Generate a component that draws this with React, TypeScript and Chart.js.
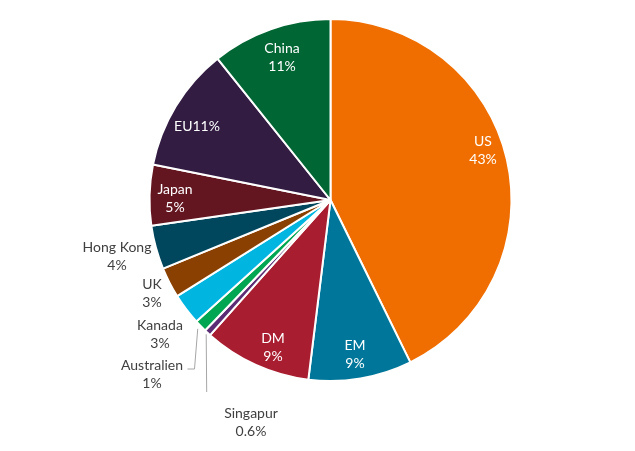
import React, { useEffect, useRef } from "react";
import { Chart, registerables } from "chart.js";

Chart.register(...registerables);

const categories = ["US", "EM", "DM", "Singapur", "Australien", "Kanada", "UK", "Hong Kong", "Japan", "EU", "China"];
const shares = [42.6, 9.2, 9.6, 0.6, 1.1, 2.8, 2.7, 3.9, 5.4, 11.1, 10.7];
const pctLabels = ["43%", "9%", "9%", "0.6%", "1%", "3%", "3%", "4%", "5%", "11%", "11%"];
const colors = ["#F06E00", "#00779A", "#A91D30", "#5C2D74", "#00A651", "#00B6E0", "#8A4000", "#00465C", "#631520", "#321C42", "#006633"];

// label placement (relative to pie centre), inside = white text
const labelOffsets: [number, number][] = [
  [152.5, -49.5], [24.5, 154.5], [-57.5, 147], [-79.5, 222.5], [-178.5, 174.5],
  [-170.5, 134.5], [-178.5, 93], [-213.5, 56.5], [-155.5, -2], [-133.5, -74], [-48.5, -142.5],
];
const insideLabel = [true, true, true, false, false, false, false, false, true, true, true];
const singleLine = [false, false, false, false, false, false, false, false, false, true, false];
// leader lines: index -> list of points relative to centre after the arc start
const leaders: Record<number, { r: number; pts: [number, number][] }> = {
  3: { r: 2, pts: [[-119.5, 192]] },
  4: { r: 4, pts: [[-136.5, 169], [-143.5, 169]] },
};

const FONT = "Lato, 'Open Sans', sans-serif";

const labelPlugin = {
  id: "pieLabels",
  afterDatasetsDraw(chart: any) {
    const ctx = chart.ctx;
    const meta = chart.getDatasetMeta(0);
    const arc0 = meta.data[0];
    const cx = arc0.x;
    const cy = arc0.y;
    ctx.save();
    // leader lines
    ctx.strokeStyle = "#A6A6A6";
    ctx.lineWidth = 1;
    Object.keys(leaders).forEach((k) => {
      const i = Number(k);
      const a = meta.data[i];
      const mid = (a.startAngle + a.endAngle) / 2;
      const r = a.outerRadius + leaders[i].r;
      const sx = cx + Math.cos(mid) * r;
      const sy = cy + Math.sin(mid) * r;
      ctx.beginPath();
      ctx.moveTo(sx, sy);
      leaders[i].pts.forEach(([dx, dy], j) => {
        const px = i === 3 && j === 0 ? sx : cx + dx;
        ctx.lineTo(px + 0.5, cy + dy);
      });
      ctx.stroke();
    });
    ctx.font = `14px ${FONT}`;
    ctx.textAlign = "center";
    ctx.textBaseline = "middle";
    categories.forEach((c, i) => {
      const [dx, dy] = labelOffsets[i];
      const x = cx + dx;
      const y = cy + dy;
      ctx.fillStyle = insideLabel[i] ? "#FFFFFF" : "#404040";
      if (singleLine[i]) {
        ctx.fillText(c + pctLabels[i], x, y);
      } else {
        ctx.fillText(c, x, y - 9);
        ctx.fillText(pctLabels[i], x, y + 9);
      }
    });
    ctx.restore();
  },
};

export default function App() {
  const ref = useRef<HTMLCanvasElement | null>(null);
  useEffect(() => {
    if (!ref.current) return;
    const chart = new Chart(ref.current, {
      type: "pie",
      data: {
        labels: categories,
        datasets: [
          {
            data: shares,
            backgroundColor: colors,
            borderColor: "#FFFFFF",
            borderWidth: 2,
            radius: 181,
          },
        ],
      },
      options: {
        responsive: false,
        animation: false,
        devicePixelRatio: 1,
        layout: { padding: { left: 150, right: 124, top: 20, bottom: 71 } },
        plugins: { legend: { display: false }, tooltip: { enabled: false } },
      },
      plugins: [labelPlugin],
    });
    return () => chart.destroy();
  }, []);
  return (
    <div style={{ position: "absolute", left: 0, top: 0, width: 635, height: 451, background: "#fff" }}>
      <canvas ref={ref} width={635} height={451} style={{ width: 635, height: 451 }} />
    </div>
  );
}
